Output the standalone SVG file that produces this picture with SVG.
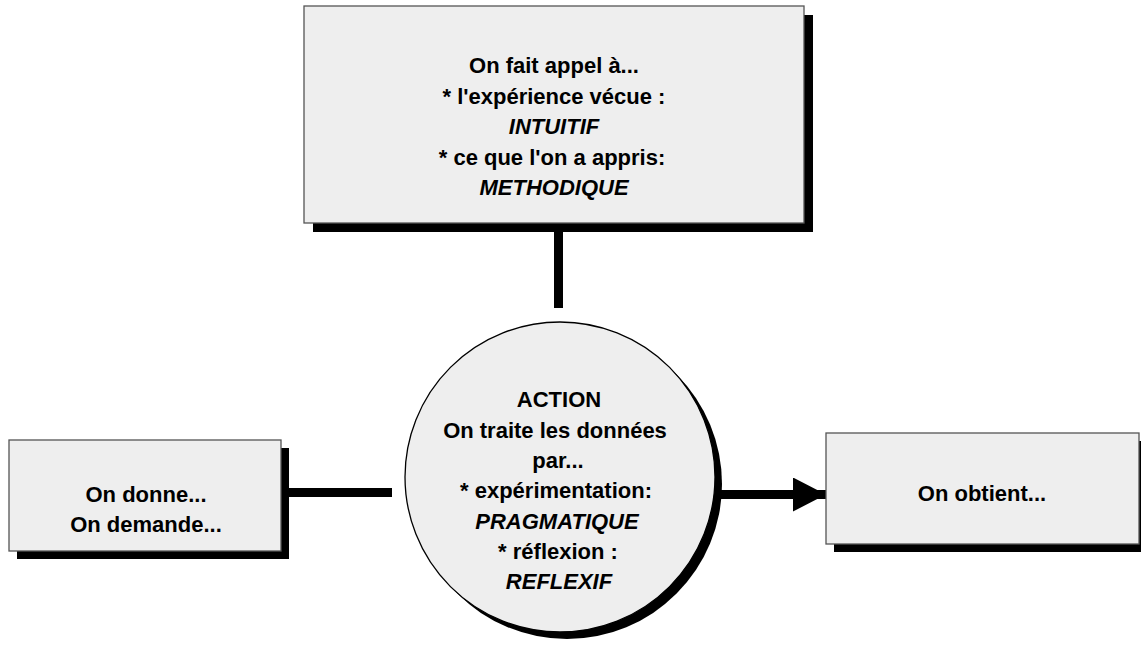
<svg xmlns="http://www.w3.org/2000/svg" width="1141" height="648" viewBox="0 0 1141 648">
<style>
.box{fill:#eeeeee;stroke:#555555;stroke-width:1.3}
.sh{fill:#000000}
.t{font-family:"Liberation Sans",Arial,sans-serif;font-size:22px;font-weight:bold;fill:#000;text-anchor:middle}
.i{font-style:italic}
.c{stroke:#000;stroke-width:9;fill:none}
</style>
<defs>
<marker id="ah" markerWidth="34" markerHeight="34" refX="33" refY="17" markerUnits="userSpaceOnUse" orient="auto">
<polygon points="0,0 33,17 0,34" fill="#000"/>
</marker>
</defs>
<rect width="1141" height="648" fill="#ffffff"/>
<g id="connectors">
<line class="c" x1="558.5" y1="223" x2="558.5" y2="308"/>
<line class="c" x1="289" y1="492.5" x2="392" y2="492.5"/>
<line class="c" x1="720" y1="494.5" x2="826" y2="494.5" marker-end="url(#ah)"/>
</g>
<g id="node-top">
<rect class="sh" x="313" y="15" width="500" height="217"/>
<rect class="box" x="304" y="6" width="500" height="217"/>
<text class="t" x="554" y="73">On fait appel à...</text>
<text class="t" x="554" y="103.5">* l'expérience vécue :</text>
<text class="t i" x="554" y="134">INTUITIF</text>
<text class="t" x="552" y="164.5">* ce que l'on a appris:</text>
<text class="t i" x="554" y="195">METHODIQUE</text>
</g>
<g id="node-action">
<circle class="sh" cx="567" cy="484" r="155"/>
<circle cx="560" cy="477" r="155" fill="#eeeeee" stroke="#000" stroke-width="1.3"/>
<text class="t" x="559" y="407">ACTION</text>
<text class="t" x="555" y="437.5">On traite les données</text>
<text class="t" x="558" y="468">par...</text>
<text class="t" x="556" y="498">* expérimentation:</text>
<text class="t i" x="557" y="528.5">PRAGMATIQUE</text>
<text class="t" x="558" y="559">* réflexion :</text>
<text class="t i" x="559" y="589">REFLEXIF</text>
</g>
<g id="node-left">
<rect class="sh" x="17" y="448" width="272" height="111"/>
<rect class="box" x="9" y="440" width="272" height="111"/>
<text class="t" x="146" y="502">On donne...</text>
<text class="t" x="146" y="532">On demande...</text>
</g>
<g id="node-right">
<rect class="sh" x="834" y="441" width="313" height="111"/>
<rect class="box" x="826" y="433" width="313" height="111"/>
<text class="t" x="982" y="501">On obtient...</text>
</g>
</svg>
